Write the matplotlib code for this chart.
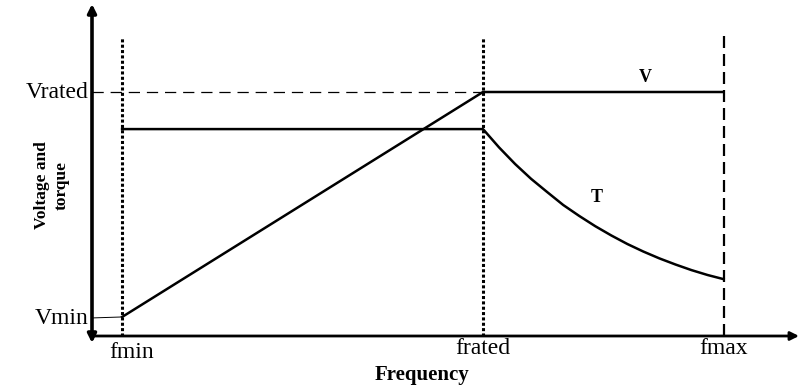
import matplotlib
matplotlib.use("Agg")
import matplotlib.pyplot as plt

# ---- data (frequency in Hz, voltage/torque in per-unit) ----
freq_marks = [5, 50, 80]
freq_labels = ["fmin", "frated", "fmax"]
V_freq = [5, 50, 80]
V_vals = [0.078, 1.0, 1.0]
T_freq = [5, 50, 52, 54, 56, 58, 60, 62, 64, 66, 68, 70, 72, 74, 76, 78, 80]
T_vals = [0.848, 0.848, 0.773, 0.705, 0.644, 0.590, 0.537, 0.492, 0.450,
          0.412, 0.377, 0.346, 0.318, 0.293, 0.270, 0.250, 0.233]
V_rated = 1.0
V_min = 0.078

# ---- layout helpers (pixel -> data mapping) ----
W, H = 799, 387
def fx(px):
    return 50 + (px - 483) / 8.02
def fy(py):
    return (336 - py) / 244.0

fig = plt.figure(figsize=(W / 100, H / 100), dpi=100)
ax = fig.add_axes([0, 0, 1, 1])
ax.set_xlim(fx(0), fx(W))
ax.set_ylim(fy(H), fy(0))
ax.axis("off")

serif = "Liberation Serif"
F0 = fx(92)

# axes with arrows
ax.annotate("", xy=(F0, fy(4)), xytext=(F0, fy(343)),
            arrowprops=dict(arrowstyle="<|-|>,head_length=0.5,head_width=0.25",
                            lw=2.6, color="black", shrinkA=0, shrinkB=0))
ax.annotate("", xy=(fx(799), 0), xytext=(F0, 0),
            arrowprops=dict(arrowstyle="-|>,head_length=0.5,head_width=0.25",
                            lw=2.0, color="black", shrinkA=0, shrinkB=0))

# vertical guide lines
top_dot = fy(37)
for f in freq_marks[:2]:
    ax.plot([f, f], [0, top_dot], color="black", lw=2.2,
            linestyle=(0, (1, 0.75)), solid_capstyle="butt", dash_capstyle="butt")
ax.plot([freq_marks[2]] * 2, [0, fy(35)], color="black", lw=1.6,
        linestyle=(0, (5.4, 2.7)), dash_capstyle="butt")

# Vrated dashed reference
ax.plot([F0, freq_marks[1]], [V_rated, V_rated], color="black", lw=0.9,
        linestyle=(0, (9, 5.5)))
# Vmin connector
ax.plot([F0, freq_marks[0]], [V_min - 0.004, V_min], color="black", lw=0.7)

# curves
ax.plot(V_freq, V_vals, color="black", lw=1.8, solid_joinstyle="miter")
ax.plot(T_freq, T_vals, color="black", lw=1.8, solid_joinstyle="round")

# labels
ax.text(fx(89), V_rated, "Vrated", fontsize=17, family=serif, ha="right", va="center")
ax.text(fx(88), fy(318), "Vmin", fontsize=17, family=serif, ha="right", va="center")
for f, lab, py in zip(freq_marks, freq_labels, [352, 349, 349]):
    ax.text(f + (1.2 if lab == "fmin" else 0), fy(py), lab, fontsize=17, family=serif,
            ha="center", va="center")
ax.text(fx(422), fy(375), "Frequency", fontsize=15, family=serif, weight="bold",
        ha="center", va="center")
ax.text(fx(645), fy(78), "V", fontsize=13, family=serif, weight="bold",
        ha="center", va="center")
ax.text(fx(597), fy(198), "T", fontsize=13, family=serif, weight="bold",
        ha="center", va="center")
ax.text(fx(52), fy(185), "Voltage and\ntorque", fontsize=12.5, family=serif,
        weight="bold", rotation=90, ha="center", va="center", linespacing=1.3,
        multialignment="center")

fig.savefig("out.png", dpi=100)
